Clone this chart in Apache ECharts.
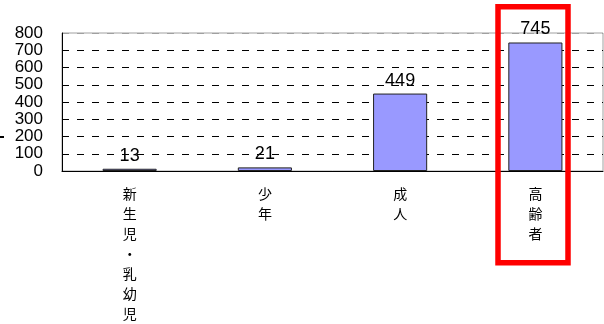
<!DOCTYPE html>
<html lang="ja">
<head>
  <meta charset="UTF-8">
  <title>chart</title>
  <style>
    html, body { margin: 0; padding: 0; background: #fff; }
  </style>
</head>
<body>
  <div id="main" style="width:604px;height:324px"></div>
  <script src="https://cdn.jsdelivr.net/npm/echarts@6/dist/echarts.min.js"></script>
  <script>
    var categories = ['新生児・乳幼児', '少年', '成人', '高齢者']
    var values = [13, 21, 449, 745]
    var yTicks = [0, 100, 200, 300, 400, 500, 600, 700, 800]

    var myChart = echarts.init(document.getElementById('main'))

    // split lines: dashed black, the top one grey like the frame
    var splitColors = yTicks.map(function (v, i) {
      return i === yTicks.length - 1 ? '#a0a0a0' : '#000'
    })

    var options = {
      animation: false,
      grid: {
        left: 62, right: 1, top: 33, bottom: 150,
        show: true,
        borderColor: '#a0a0a0',
        borderWidth: 1
      },
      xAxis: {
        type: 'category',
        data: categories,
        axisLine: { lineStyle: { color: '#000', width: 1 } },
        axisTick: { inside: true, length: 4, lineStyle: { color: '#000' } },
        axisLabel: {
          margin: 13,
          fontSize: 14,
          lineHeight: 20,
          color: '#000',
          fontFamily: 'Noto Sans CJK JP',
          formatter: function (v) { return v.split('').join('\n') }
        }
      },
      yAxis: {
        type: 'value',
        min: yTicks[0],
        max: yTicks[yTicks.length - 1],
        interval: 100,
        axisLine: { show: true, lineStyle: { color: '#000', width: 1 } },
        axisTick: { show: false },
        axisLabel: {
          margin: 19,
          fontSize: 17,
          color: '#000',
          fontFamily: 'Liberation Sans'
        },
        splitLine: {
          show: true,
          lineStyle: { color: splitColors, type: [7, 8], width: 1 }
        }
      },
      series: [
        {
          type: 'bar',
          data: values,
          barWidth: '40%',
          itemStyle: { color: '#9999ff', borderColor: '#222', borderWidth: 1 },
          label: {
            show: true,
            position: 'top',
            distance: 4,
            fontSize: 18,
            color: '#000',
            fontFamily: 'Liberation Sans'
          }
        }
      ],
      graphic: [
        {
          type: 'rect',
          shape: { x: 498, y: 6.7, width: 70, height: 256 },
          style: { fill: 'none', stroke: '#ff0000', lineWidth: 5.5 },
          z: 100
        },
        {
          type: 'line',
          shape: { x1: 0, y1: 137, x2: 4, y2: 137 },
          style: { stroke: '#000', lineWidth: 2 }
        }
      ]
    }

    myChart.setOption(options)
  </script>
</body>
</html>
